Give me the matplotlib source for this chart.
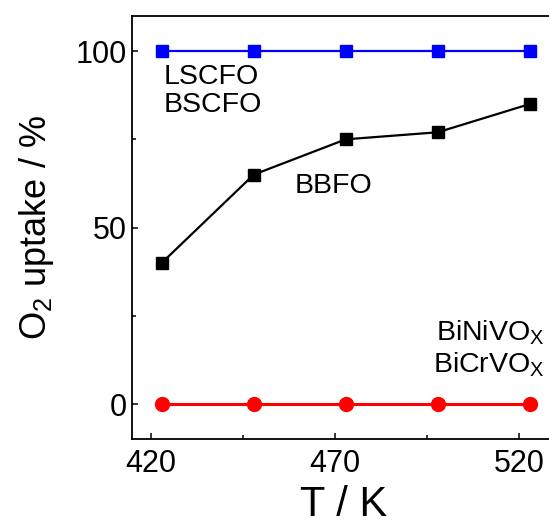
import matplotlib
matplotlib.use("Agg")
import matplotlib.pyplot as plt
from matplotlib.ticker import MultipleLocator

plt.rcParams["font.family"] = ["Liberation Sans", "DejaVu Sans"]
plt.rcParams["mathtext.default"] = "regular"

# O2 uptake against temperature
temperature = [423, 448, 473, 498, 523]
uptake_lscfo = [100, 100, 100, 100, 100]
uptake_bbfo = [40, 65, 75, 77, 85]
uptake_bivox = [0, 0, 0, 0, 0]

fig = plt.figure(figsize=(5.49, 5.25), dpi=100)
ax = fig.add_axes([0.241, 0.163, 0.771, 0.807])

ax.plot(temperature, uptake_lscfo, color="#0000ff", lw=1.6,
        marker="s", ms=8.5, mec="#0000ff", zorder=3)
ax.plot(temperature, uptake_bbfo, color="black", lw=1.6,
        marker="s", ms=8, zorder=3)
ax.plot(temperature, uptake_bivox, color="#ff0000", lw=2.2,
        marker="o", ms=10, zorder=3)

ax.set_xlim(415, 530)
ax.set_ylim(-10, 110)
ax.xaxis.set_major_locator(MultipleLocator(50, offset=20))
ax.xaxis.set_minor_locator(MultipleLocator(25, offset=20))
ax.yaxis.set_major_locator(MultipleLocator(50))
ax.yaxis.set_minor_locator(MultipleLocator(25))
ax.tick_params(which="both", direction="in", labelsize=22, width=1.1)
ax.tick_params(which="major", length=4)
ax.tick_params(which="minor", length=3)
ax.tick_params(axis="x", pad=7)
ax.tick_params(axis="y", pad=4)
for side in ["left", "bottom", "top"]:
    ax.spines[side].set_linewidth(1.3)
ax.spines["right"].set_visible(False)

ax.set_xlabel("T / K", fontsize=30, labelpad=4)
ax.set_ylabel("O$_2$ uptake / %", fontsize=26, labelpad=14)

ax.text(423.4, 90.8, "LSCFO", fontsize=20.5, ha="left", va="baseline")
ax.text(423.4, 82.7, "BSCFO", fontsize=20.5, ha="left", va="baseline")
ax.text(459.2, 59.7, "BBFO", fontsize=20.5, ha="left", va="baseline")
ax.text(527, 18, "BiNiVO$_X$", fontsize=20.5, ha="right", va="baseline")
ax.text(527, 9, "BiCrVO$_X$", fontsize=20.5, ha="right", va="baseline")

fig.savefig("out.png", dpi=100)
